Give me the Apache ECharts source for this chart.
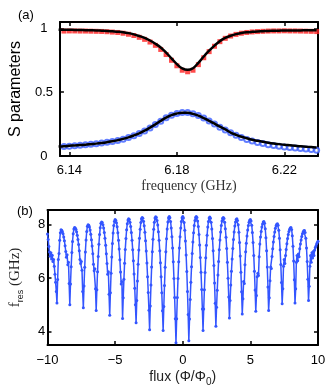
<!DOCTYPE html>
<html>
<head>
<meta charset="utf-8">
<script src="https://cdn.jsdelivr.net/npm/echarts@6/dist/echarts.min.js"></script>
<style>
html, body { margin: 0; padding: 0; background: #fff; }
#chart { width: 331px; height: 392px; }
</style>
</head>
<body>
<div id="chart"></div>
<script>
// (a) S parameters vs frequency, one sample every 2 MHz from 6.136 GHz
const freqStart = 6.136;
const freqStep = 0.002;
const s21Data = [
  0.978, 0.979, 0.980, 0.980, 0.979, 0.979, 0.978, 0.977, 0.976, 0.974,
  0.971, 0.968, 0.962, 0.954, 0.944, 0.930, 0.914, 0.893, 0.867, 0.835,
  0.795, 0.750, 0.707, 0.672, 0.660, 0.672, 0.716, 0.770, 0.818, 0.860,
  0.896, 0.922, 0.940, 0.953, 0.962, 0.968, 0.972, 0.975, 0.977, 0.979,
  0.980, 0.980, 0.981, 0.980, 0.980, 0.979, 0.978, 0.977, 0.975
];
const s21Fit = [
  0.990, 0.990, 0.989, 0.988, 0.987, 0.986, 0.985, 0.984, 0.982, 0.980,
  0.977, 0.974, 0.970, 0.963, 0.953, 0.940, 0.925, 0.905, 0.880, 0.850,
  0.810, 0.765, 0.720, 0.686, 0.675, 0.688, 0.730, 0.780, 0.825, 0.865,
  0.900, 0.925, 0.942, 0.955, 0.963, 0.969, 0.973, 0.976, 0.978, 0.980,
  0.981, 0.982, 0.983, 0.983, 0.984, 0.984, 0.985, 0.985, 0.985
];
const s11Data = [
  0.072, 0.074, 0.077, 0.080, 0.084, 0.088, 0.092, 0.096, 0.101, 0.107,
  0.114, 0.122, 0.132, 0.144, 0.159, 0.176, 0.196, 0.220, 0.246, 0.273,
  0.299, 0.320, 0.334, 0.341, 0.340, 0.332, 0.317, 0.297, 0.274, 0.250,
  0.226, 0.203, 0.182, 0.162, 0.145, 0.130, 0.117, 0.106, 0.097, 0.089,
  0.082, 0.076, 0.071, 0.066, 0.062, 0.058, 0.054, 0.050, 0.046
];
const s11Fit = [
  0.075, 0.077, 0.080, 0.083, 0.086, 0.089, 0.093, 0.097, 0.102, 0.108,
  0.115, 0.124, 0.134, 0.146, 0.161, 0.178, 0.198, 0.222, 0.248, 0.275,
  0.300, 0.320, 0.333, 0.339, 0.338, 0.330, 0.316, 0.297, 0.276, 0.253,
  0.230, 0.208, 0.184, 0.166, 0.151, 0.139, 0.128, 0.119, 0.111, 0.104,
  0.098, 0.093, 0.088, 0.084, 0.080, 0.076, 0.073, 0.070, 0.067
];
const freqTicks = [6.14, 6.18, 6.22];
const sTicks = [0, 0.5, 1];

// (b) resonance frequency vs flux, one sample every 0.05 flux quanta from -10
const fluxStart = -10;
const fluxStep = 0.05;
const fres = [
  7.65, 7.45, 7.18, 6.98, 6.82, 6.95, 6.72, 6.86, 6.62, 6.70, 6.45, 6.15, 5.85, 5.50, 5.07,
  5.95, 6.70, 6.92, 7.42, 7.70, 7.81,
  7.79, 7.74, 7.66, 7.54, 7.40, 7.21, 7.00, 6.78, 6.88, 6.50, 6.60, 5.80, 5.01,
  5.78, 6.43, 6.96, 7.37, 7.66, 7.84, 7.90,
  7.88, 7.83, 7.74, 7.61, 7.45, 7.26, 7.03, 6.70, 6.55, 6.62, 6.30, 5.50, 4.89,
  5.71, 6.41, 6.98, 7.43, 7.75, 7.94, 8.00,
  7.98, 7.91, 7.80, 7.64, 7.44, 7.20, 6.91, 6.52, 6.28, 6.35, 5.60, 4.79,
  5.57, 6.24, 6.81, 7.27, 7.63, 7.89, 8.05, 8.10,
  8.08, 8.00, 7.88, 7.71, 7.49, 7.23, 6.91, 6.55, 6.15, 6.24, 5.40, 4.61,
  5.45, 6.18, 6.79, 7.30, 7.69, 7.97, 8.13, 8.19,
  8.16, 8.07, 7.92, 7.70, 7.42, 7.09, 6.69, 6.23, 5.78, 5.88, 4.49,
  5.27, 5.96, 6.56, 7.07, 7.48, 7.81, 8.04, 8.18, 8.22,
  8.19, 8.09, 7.93, 7.71, 7.42, 7.06, 6.65, 6.16, 5.62, 5.01, 4.33,
  5.16, 5.89, 6.52, 7.05, 7.49, 7.83, 8.08, 8.22, 8.27,
  8.24, 8.13, 7.96, 7.72, 7.40, 7.02, 6.57, 6.05, 5.46, 4.80, 4.07,
  4.96, 5.74, 6.42, 6.99, 7.46, 7.83, 8.09, 8.25, 8.30,
  8.27, 8.16, 7.99, 7.74, 7.42, 7.03, 6.58, 6.05, 5.45, 4.78, 4.04,
  4.94, 5.73, 6.41, 6.99, 7.47, 7.84, 8.10, 8.26, 8.31,
  8.26, 8.12, 7.88, 7.55, 7.13, 6.61, 5.99, 5.28, 4.48, 3.58,
  4.48, 5.28, 5.99, 6.61, 7.13, 7.55, 7.88, 8.12, 8.26, 8.31,
  8.25, 8.08, 7.79, 7.39, 6.87, 6.25, 5.50, 4.64, 3.66,
  4.47, 5.20, 5.85, 6.43, 6.92, 7.35, 7.70, 7.97, 8.16, 8.27, 8.31,
  8.27, 8.14, 7.93, 7.63, 7.24, 6.77, 6.22, 5.58, 4.85, 4.04,
  4.85, 5.57, 6.21, 6.76, 7.23, 7.61, 7.91, 8.12, 8.25, 8.29,
  8.24, 8.09, 7.84, 7.48, 7.03, 6.47, 5.82, 5.06, 4.20,
  4.91, 5.55, 6.12, 6.62, 7.06, 7.43, 7.73, 7.97, 8.14, 8.24, 8.27,
  8.23, 8.09, 7.85, 7.53, 7.11, 6.60, 6.00, 5.30, 4.51,
  5.16, 5.74, 6.26, 6.72, 7.11, 7.45, 7.73, 7.95, 8.10, 8.19, 8.22,
  8.16, 8.00, 7.72, 7.33, 6.83, 6.22, 5.49, 4.66,
  5.23, 5.88, 5.80, 6.50, 6.99, 7.31, 7.58, 7.80, 7.97, 8.09, 8.17, 8.19,
  8.14, 7.98, 7.71, 7.33, 6.85, 6.26, 5.56, 4.76,
  5.35, 6.05, 6.18, 6.10, 6.80, 7.28, 7.54, 7.75, 7.91, 8.03, 8.10, 8.12,
  8.05, 7.85, 7.51, 7.03, 6.42, 5.67, 4.79,
  5.27, 5.90, 6.42, 6.36, 6.81, 7.10, 7.35, 7.56, 7.73, 7.87, 7.96, 8.02, 8.04,
  7.98, 7.79, 7.49, 7.06, 6.51, 5.84, 5.04,
  5.60, 6.45, 6.70, 6.55, 6.85, 7.07, 7.29, 7.48, 7.63, 7.75, 7.83, 7.88, 7.90,
  7.82, 7.59, 7.19, 6.64, 5.94, 5.07,
  5.60, 6.60, 6.85, 6.65, 6.90, 6.80, 7.10, 7.28, 7.43, 7.56, 7.66, 7.73, 7.77, 7.78,
  7.71, 7.49, 7.13, 6.62, 5.96, 5.16,
  5.70, 6.45, 6.85, 6.60, 6.95, 6.75, 7.00, 6.85, 7.05, 7.15, 7.20, 7.28, 7.33, 7.38
];
const fluxTicks = [-10, -5, 0, 5, 10];
const fresTicks = [4, 6, 8];

// pair values with their sweep position
const byFreq = arr => arr.map((v, i) => [+(freqStart + i * freqStep).toFixed(4), v]);
const byFlux = arr => arr.map((v, i) => [+(fluxStart + i * fluxStep).toFixed(3), v]);

const sans = 'Liberation Sans';
const serif = 'Liberation Serif';
const box = { show: true, onZero: false, lineStyle: { color: '#000', width: 2 } };

function tick(values) {
  return { show: true, inside: true, length: 4, customValues: values, lineStyle: { color: '#000', width: 1.5 } };
}
function label(values, extra) {
  return Object.assign({ show: true, customValues: values, fontFamily: sans, fontSize: 13, color: '#000' }, extra);
}
const hidden = { show: false };
const minus = v => String(v).replace('-', '\u2212');

const chart = echarts.init(document.getElementById('chart'), null, { renderer: 'canvas' });
chart.setOption({
  animation: false,
  backgroundColor: '#fff',
  grid: [
    { left: 45, right: 13, top: 22, height: 134 },
    { left: 45, right: 13, top: 210, height: 135 }
  ],
  xAxis: [
    { gridIndex: 0, type: 'value', min: 6.1365, max: 6.2325, axisLine: box,
      axisTick: tick(freqTicks), axisLabel: label(freqTicks, { margin: 8 }), splitLine: hidden,
      name: 'frequency (GHz)', nameLocation: 'middle', nameGap: 23,
      nameTextStyle: { fontFamily: serif, fontSize: 14, color: '#333' } },
    { gridIndex: 0, type: 'value', position: 'top', min: 6.1365, max: 6.2325, axisLine: box,
      axisTick: tick(freqTicks), axisLabel: hidden, splitLine: hidden },
    { gridIndex: 1, type: 'value', min: -10, max: 10, axisLine: box,
      axisTick: tick(fluxTicks), axisLabel: label(fluxTicks, { margin: 9, formatter: minus }), splitLine: hidden,
      name: '{t|flux (\u03A6/\u03A6}{s|0}{t|)}', nameLocation: 'middle', nameGap: 22,
      nameTextStyle: { rich: {
        t: { fontFamily: sans, fontSize: 14, color: '#222', lineHeight: 20, verticalAlign: 'middle' },
        s: { fontFamily: sans, fontSize: 10, color: '#222', lineHeight: 20, verticalAlign: 'bottom' }
      } } },
    { gridIndex: 1, type: 'value', position: 'top', min: -10, max: 10, axisLine: box,
      axisTick: tick(fluxTicks), axisLabel: hidden, splitLine: hidden }
  ],
  yAxis: [
    { gridIndex: 0, type: 'value', min: 0, max: 1.05, axisLine: box,
      axisTick: tick(sTicks), axisLabel: label(sTicks, { align: 'center', margin: 16 }), splitLine: hidden,
      name: 'S parameters', nameLocation: 'middle', nameRotate: 90, nameGap: 30,
      nameTextStyle: { fontFamily: sans, fontSize: 16, color: '#000' } },
    { gridIndex: 0, type: 'value', position: 'right', min: 0, max: 1.05, axisLine: box,
      axisTick: tick(sTicks), axisLabel: hidden, splitLine: hidden },
    { gridIndex: 1, type: 'value', min: 3.5, max: 8.55, axisLine: box,
      axisTick: tick(fresTicks), axisLabel: label(fresTicks, { align: 'center', margin: 6 }), splitLine: hidden,
      name: '{f|f}{s|res}{t| (GHz)}', nameLocation: 'middle', nameRotate: 90, nameGap: 22,
      nameTextStyle: { rich: {
        f: { fontFamily: serif, fontSize: 15, color: '#222', lineHeight: 20, verticalAlign: 'middle' },
        s: { fontFamily: sans, fontSize: 9, color: '#222', lineHeight: 20, verticalAlign: 'bottom' },
        t: { fontFamily: serif, fontSize: 15, color: '#222', lineHeight: 20, verticalAlign: 'middle' }
      } } },
    { gridIndex: 1, type: 'value', position: 'right', min: 3.5, max: 8.55, axisLine: box,
      axisTick: tick(fresTicks), axisLabel: hidden, splitLine: hidden }
  ],
  graphic: [
    { type: 'text', left: 18, top: 9, style: { text: '(a)', fontFamily: sans, fontSize: 13, fill: '#000' } },
    { type: 'text', left: 17, top: 205, style: { text: '(b)', fontFamily: sans, fontSize: 13, fill: '#000' } }
  ],
  series: [
    { type: 'scatter', xAxisIndex: 0, yAxisIndex: 0, data: byFreq(s21Data), symbol: 'rect', symbolSize: 5,
      itemStyle: { color: '#ff1f1f' }, z: 2 },
    { type: 'scatter', xAxisIndex: 0, yAxisIndex: 0, data: byFreq(s11Data), symbol: 'emptyCircle', symbolSize: 5,
      itemStyle: { color: '#3a5cff', borderWidth: 1.3 }, z: 2 },
    { type: 'line', xAxisIndex: 0, yAxisIndex: 0, data: byFreq(s21Fit), smooth: 0.4, symbol: 'none',
      lineStyle: { color: '#000', width: 2.5 }, z: 3 },
    { type: 'line', xAxisIndex: 0, yAxisIndex: 0, data: byFreq(s11Fit), smooth: 0.4, symbol: 'none',
      lineStyle: { color: '#000', width: 2.5 }, z: 3 },
    { type: 'line', xAxisIndex: 2, yAxisIndex: 2, data: byFlux(fres), symbol: 'circle', symbolSize: 3,
      showAllSymbol: true, lineStyle: { color: '#3355ff', width: 1.5 }, itemStyle: { color: '#3355ff' }, z: 2 }
  ]
});
</script>
</body>
</html>
